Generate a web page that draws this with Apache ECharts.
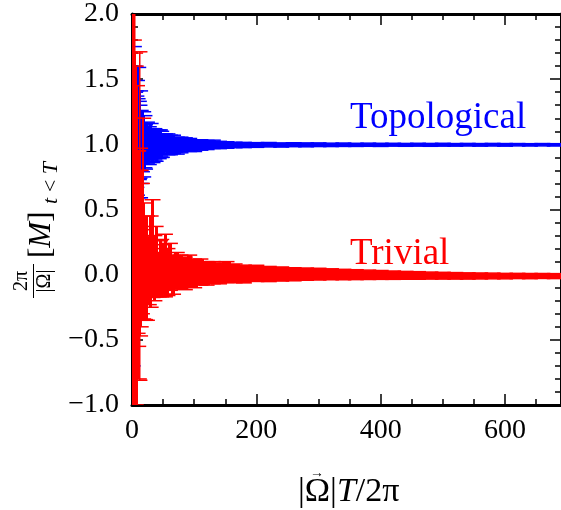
<!DOCTYPE html>
<html>
<head>
<meta charset="utf-8">
<script src="https://cdn.jsdelivr.net/npm/echarts@6/dist/echarts.min.js"></script>
<style>
html,body{margin:0;padding:0;background:#fff;}
#chart{width:561px;height:510px;}
</style>
</head>
<body>
<div id="chart"></div>
<script>
// |Omega| T / 2pi sample positions
const periods = [1,2,3,4,5,6,7,8,9,10,11,12,13,14,16,18,20,21,24,27,30,33,36,38,
  43,45,47,48,51,53,57,61,66,72,78,85,92,100,110,120,130,140,152,165,180,200,
  220,240,260,280,300,320,340,360,380,400,420,440,460,480,500,520,540,560,580,600,620,640,660,680];

// Topological (blue): mean and error
const topoMean = [1.00,1.15,0.95,1.05,1.00,0.98,1.02,1.05,0.97,1.00,1.03,1.02,1.00,0.98,0.965,1.00,1.02,0.98,1.01,0.99,1.02,0.99,1.00,0.99,
  1.00,1.01,1.00,0.99,1.00,1.01,1.00,0.995,1.00,0.99,0.995,1.00,0.995,0.99,0.995,0.995,1.00,0.995,0.995,0.995,0.995,0.995,
  0.997,0.995,0.997,0.996,0.997,0.996,0.997,0.996,0.997,0.996,0.997,0.996,0.997,0.996,0.997,0.996,0.997,0.996,0.997,0.996,0.997,0.996,0.997,0.996];
const topoErr = [1.70,1.00,0.80,0.55,0.40,0.43,0.35,0.44,0.38,0.59,0.30,0.28,0.41,0.28,0.175,0.25,0.20,0.17,0.16,0.145,0.14,0.13,0.12,0.12,
  0.11,0.10,0.10,0.09,0.07,0.07,0.08,0.075,0.07,0.065,0.06,0.05,0.05,0.045,0.04,0.035,0.032,0.028,0.025,0.021,0.02,0.018,
  0.017,0.016,0.015,0.015,0.014,0.013,0.013,0.012,0.012,0.012,0.011,0.011,0.011,0.011,0.011,0.010,0.010,0.010,0.010,0.010,0.009,0.009,0.009,0.009];

// Trivial (red): mean and error
const trivMean = [0.20,0.50,-0.10,0.40,0.10,0.30,0.00,0.20,0.25,0.20,0.00,0.45,0.25,0.20,0.20,0.43,0.10,0.00,0.05,0.03,0.10,0.20,0.05,0.10,
  0.00,0.06,0.05,0.02,0.04,0.07,0.02,0.06,0.00,0.03,0.02,0.01,0.03,0.01,0.02,0.01,0.015,0.01,0.02,0.01,0.005,0.01,
  0.005,0.005,0.003,0.004,0.004,0.003,0.001,0.000,-0.001,-0.002,-0.004,-0.005,-0.006,-0.007,-0.008,-0.009,-0.010,-0.010,-0.010,-0.011,-0.010,-0.011,-0.010,-0.011];
const trivErr = [2.20,1.80,1.90,1.70,1.60,1.30,1.20,1.25,0.70,0.75,0.80,1.26,0.72,0.60,0.50,0.77,0.45,0.345,0.40,0.26,0.35,0.375,0.25,0.27,
  0.17,0.20,0.22,0.18,0.19,0.24,0.18,0.18,0.15,0.14,0.13,0.125,0.12,0.11,0.10,0.09,0.085,0.08,0.08,0.072,0.068,0.062,
  0.058,0.054,0.050,0.047,0.045,0.042,0.040,0.038,0.036,0.034,0.032,0.030,0.029,0.027,0.026,0.025,0.024,0.023,0.022,0.021,0.020,0.020,0.019,0.019];

const xTicks = [0, 200, 400, 600];
const yTicks = [-1.0, -0.5, 0.0, 0.5, 1.0, 1.5, 2.0];

const SERIF = "'Liberation Serif', 'DejaVu Serif', serif";

function buildData(means, errs) {
  return periods.map((p, i) => {
    const l = i === 0 ? p - 0.5 : (periods[i - 1] + p) / 2;
    const r = i === periods.length - 1 ? p + 10 : (p + periods[i + 1]) / 2;
    return [p, means[i] - errs[i], means[i] + errs[i], l, r];
  });
}

function makeRender(color) {
  return function (params, api) {
    const x = api.value(0), lo = api.value(1), hi = api.value(2), xl = api.value(3), xr = api.value(4);
    const pLo = api.coord([x, lo]);
    const pHi = api.coord([x, hi]);
    const left = Math.floor(api.coord([xl, lo])[0]);
    const right = Math.ceil(api.coord([xr, lo])[0]);
    const w = Math.max(right - left, 1.5);
    const cx = pLo[0];
    const cap = 8;
    return {
      type: 'group',
      children: [
        { type: 'rect', shape: { x: left, y: pHi[1], width: w, height: pLo[1] - pHi[1] }, style: { fill: color } },
        { type: 'line', shape: { x1: cx - cap, y1: pHi[1], x2: cx + cap, y2: pHi[1] }, style: { stroke: color, lineWidth: 1.5 } },
        { type: 'line', shape: { x1: cx - cap, y1: pLo[1], x2: cx + cap, y2: pLo[1] }, style: { stroke: color, lineWidth: 1.5 } }
      ]
    };
  };
}

function axisCommon(extra) {
  return Object.assign({
    type: 'value',
    axisLine: { show: true, onZero: false, lineStyle: { color: '#000', width: 3 } },
    axisTick: { show: true, inside: true, length: 11, lineStyle: { color: '#000', width: 1.5 } },
    splitLine: { show: false },
    minorSplitLine: { show: false }
  }, extra);
}

const xLabel = {
  fontFamily: SERIF, fontSize: 28, color: '#000', margin: 12,
  showMaxLabel: false,
  formatter: v => xTicks.indexOf(v) >= 0 ? String(v) : ''
};
const yLabel = {
  fontFamily: SERIF, fontSize: 28, color: '#000', margin: 13,
  formatter: v => {
    const t = yTicks.find(k => Math.abs(k - v) < 1e-9);
    if (t === undefined) return '';
    return (t < 0 ? '\u2212' : '') + Math.abs(t).toFixed(1);
  }
};
const xMinor = { show: true, splitNumber: 4, length: 6, lineStyle: { color: '#000', width: 1.5 } };
const yMinor = { show: true, splitNumber: 5, length: 6, lineStyle: { color: '#000', width: 1.5 } };

const chart = echarts.init(document.getElementById('chart'), null, { renderer: 'canvas' });
chart.setOption({
  animation: false,
  backgroundColor: '#fff',
  grid: { left: 132, top: 14, width: 429, height: 391, containLabel: false, outerBoundsMode: 'none' },
  xAxis: [
    axisCommon({ min: 0, max: 690, interval: 200, position: 'bottom', minorTick: xMinor, axisLabel: xLabel }),
    axisCommon({ min: 0, max: 690, interval: 200, position: 'top', minorTick: xMinor, axisLabel: { show: false } })
  ],
  yAxis: [
    axisCommon({ min: -1, max: 2, interval: 0.5, position: 'left', minorTick: yMinor, axisLabel: yLabel }),
    axisCommon({ min: -1, max: 2, interval: 0.5, position: 'right', minorTick: yMinor, axisLabel: { show: false } })
  ],
  series: [
    {
      name: 'Topological', type: 'custom', xAxisIndex: 0, yAxisIndex: 0, clip: true,
      renderItem: makeRender('#0000ff'),
      encode: { x: 0, y: [1, 2] },
      data: buildData(topoMean, topoErr), z: 2
    },
    {
      name: 'Trivial', type: 'custom', xAxisIndex: 0, yAxisIndex: 0, clip: true,
      renderItem: makeRender('#ff0000'),
      encode: { x: 0, y: [1, 2] },
      data: buildData(trivMean, trivErr), z: 3
    }
  ],
  graphic: [
    { type: 'text', x: 350, y: 118.5, z: 10,
      style: { text: 'Topological', fill: '#0000ff', font: "37px " + SERIF, align: 'left', verticalAlign: 'middle' } },
    { type: 'text', x: 350, y: 254.5, z: 10,
      style: { text: 'Trivial', fill: '#ff0000', font: "37px " + SERIF, align: 'left', verticalAlign: 'middle' } },
    // x axis title  |Ω⃗|T/2π
    { type: 'group', x: 298, y: 492, z: 10, children: [
      { type: 'text', x: 0, y: 0, style: { text: '{n||Ω|}{i|T}{n|/2π}', align: 'left', verticalAlign: 'middle',
        rich: { n: { fontFamily: SERIF, fontSize: 34, fill: '#000' }, i: { fontFamily: SERIF, fontSize: 34, fontStyle: 'italic', fill: '#000' } } } },
      { type: 'text', x: 19, y: -19, style: { text: '→', font: "14px " + SERIF, fill: '#000', align: 'center', verticalAlign: 'middle' } }
    ] },
    // y axis title  2π/|Ω⃗| [M]_{t<T}, rotated
    { type: 'group', x: 52, y: 300, rotation: Math.PI / 2, z: 10, children: [
      { type: 'text', x: 19, y: -20, style: { text: '2π', font: "20px " + SERIF, fill: '#000', align: 'center', verticalAlign: 'bottom' } },
      { type: 'line', shape: { x1: 2, y1: -18.5, x2: 36, y2: -18.5 }, style: { stroke: '#000', lineWidth: 1 } },
      { type: 'text', x: 19, y: -7, style: { text: '|Ω|', font: "20px " + SERIF, fill: '#000', align: 'center', verticalAlign: 'middle' } },
      { type: 'text', x: 19, y: -16, style: { text: '→', font: "10px " + SERIF, fill: '#000', align: 'center', verticalAlign: 'middle' } },
      { type: 'text', x: 42, y: -10, style: { text: '{n|[}{i|M}{n|]}', align: 'left', verticalAlign: 'middle',
        rich: { n: { fontFamily: SERIF, fontSize: 31, fill: '#000' }, i: { fontFamily: SERIF, fontSize: 31, fontStyle: 'italic', fill: '#000' } } } },
      { type: 'text', x: 96, y: -1, style: { text: 't\u2009<\u2009T', font: "italic 22px " + SERIF, fill: '#000', align: 'left', verticalAlign: 'middle' } }
    ] }
  ]
});
</script>
</body>
</html>
